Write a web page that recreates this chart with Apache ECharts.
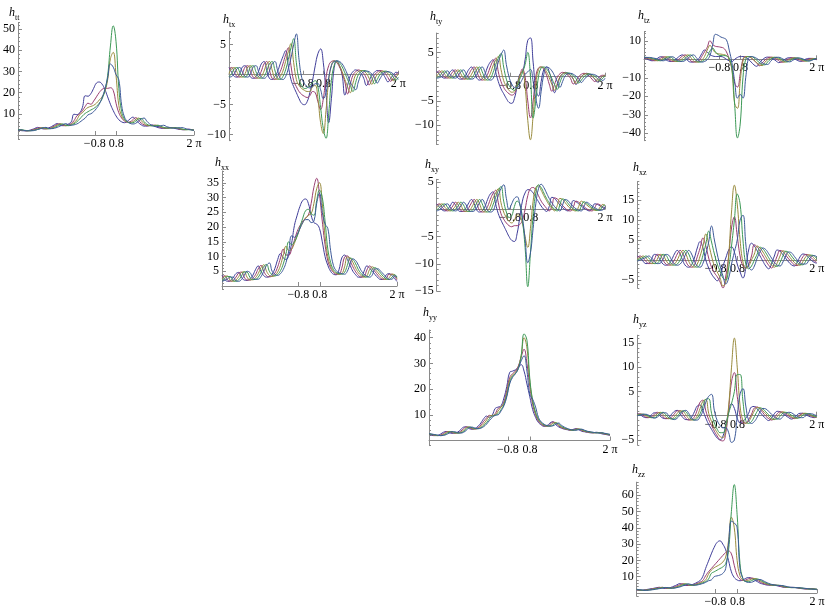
<!DOCTYPE html>
<html><head><meta charset="utf-8">
<script src="https://cdn.jsdelivr.net/npm/echarts@6/dist/echarts.min.js"></script>
<style>html,body{margin:0;padding:0;background:#fff}#c{width:830px;height:613px}</style>
</head><body><div id="c"></div>
<script>
const X = [0,0.1,0.2,0.3,0.4,0.5,0.6,0.7,0.8,0.9,1,1.1,1.2,1.3,1.4,1.5,1.6,1.7,1.8,1.9,2,2.1,2.2,2.3,2.4,2.5,2.6,2.7,2.8,2.9,3,3.1,3.2,3.3,3.4,3.5,3.6,3.7,3.8,3.9,4,4.1,4.2,4.3,4.4,4.5,4.6,4.7,4.8,4.9,5,5.1,5.2,5.3,5.4,5.5,5.6,5.7,5.8,5.9,6,6.1,6.2,6.2832];
const X_TICKS = [2.74, 3.51, 6.2832];
const X_TICK_LABELS = ['\u22120.8', '0.8', '2 \u03c0'];

const TT1 = [2.4,2.1,2.0,2.0,2.2,2.6,3.1,3.6, 3.2,2.9,3.0,3.4,4.0,4.8,5.4,4.6, 4.4,4.6,5.2,6.2,9.8,9.6,10.5,13, 18.5,18.3,19.5,22,24.5,25,24,21.5, 18,14.5,11.5,9,7.2,6.2,5.8,6.4, 7.6,8.4,7.2,5.8,4.8,4.2,4.2,4.5, 4.7,4.0,3.5,3.2,3.1,3.2,3.4,3.5, 3.1,2.8,2.6,2.5,2.6,2.7,2.5,2.2];
const TT2 = [2.4,2.3,2.1,2.0,2.1,2.3,2.8,3.2, 3.5,3.0,2.9,3.1,3.6,4.3,5.0,5.3, 4.5,4.4,4.7,5.4,6.8,9.0,10.0,11.5, 13.5,15.0,14.5,16,18,20,21.5,22, 22,22.3,21,15,10.5,8,6.6,6.0, 6.2,7.2,8.2,7.0,5.6,4.8,4.4,4.4, 4.6,4.6,3.9,3.5,3.3,3.2,3.3,3.5, 3.4,3.0,2.7,2.5,2.6,2.7,2.5,2.3];
const TT3 = [2.5,2.4,2.2,2.0,2.0,2.2,2.5,2.9, 3.3,3.4,2.9,3.0,3.3,3.9,4.6,5.2, 5.0,4.4,4.5,5.0,5.8,7.2,9.5,10.5, 12,13,13.5,14,15,16.5,18,20.5, 26,36,39,28,14,9,7,6.2, 5.9,6.3,7.3,8.0,6.8,5.4,4.6,4.4, 4.4,4.6,4.5,3.8,3.4,3.3,3.3,3.4, 3.5,3.2,2.9,2.6,2.5,2.6,2.5,2.3];
const TT4 = [2.5,2.5,2.3,2.1,2.0,2.1,2.3,2.6, 3.0,3.4,3.3,2.9,3.1,3.5,4.1,4.9, 5.2,4.7,4.4,4.7,5.3,6.2,7.5,9.0, 10.2,11.0,11.8,12.5,13.5,15,17,21, 28,42,51.5,44,22,11,7.5,6.2, 5.7,5.8,6.5,7.5,7.8,6.3,5.1,4.5, 4.3,4.4,4.6,4.2,3.6,3.3,3.3,3.3, 3.4,3.4,3.0,2.7,2.5,2.5,2.4,2.3];
const TT5 = [2.3,2.4,2.2,2.0,2.0,2.0,2.2,2.6, 3.0,3.4,3.6,3.1,3.0,3.2,3.6,4.2, 4.8,5.4,4.8,4.6,4.8,5.2,6.0,7.0, 8.0,9.5,10.0,11.0,12.5,14.5,17.5,21.5, 27,33.5,32,28.5,26,14,8.5,6.5, 5.5,5.2,5.5,6.5,7.5,8.0,6.5,5.2, 4.4,4.0,4.0,4.3,4.6,4.0,3.6,3.3, 3.2,3.3,3.5,3.4,2.9,2.6,2.4,2.2];

const TX1 = [1.2,0.4,-0.3,-0.4,0.2,1.3,1.5,0.5, -0.4,-0.6,-0.3,0.6,1.8,2.2,0.8,-0.6, -0.8,-0.3,0.5,1.8,3.0,4.0,1.5,-0.8, -2.0,-3.0,-4.0,-4.8,-5.0,-4.5,-3.0,-1.0, 1.5,3.5,4.3,2.0,-3.0,-8.0,-4.0,1.0, 2.3,1.5,0.0,-3.4,-1.8,-0.2,0.5,0.8, 0.6,0.2,-0.6,-1.8,-1.0,-0.1,0.4,0.7, 0.6,0.2,-0.5,-1.2,-0.6,0.0,0.4,0.3];
const TX2 = [1.0,1.2,0.4,-0.3,-0.4,0.2,1.3,1.5, 0.5,-0.4,-0.6,-0.3,0.6,1.8,2.2,0.8, -0.6,-0.8,-0.3,0.5,1.8,3.3,4.5,1.5, -1.0,-2.0,-2.8,-3.3,-3.6,-3.8,-3.5,-2.8, -3.0,-4.5,-5.8,-4.0,-0.5,1.5,2.2,2.3, 2.0,1.3,0.2,-1.2,-3.2,-1.6,-0.1,0.5, 0.8,0.6,0.2,-0.6,-1.7,-0.9,0.0,0.4, 0.7,0.6,0.2,-0.5,-1.1,-0.5,0.1,0.3];
const TX3 = [0.2,1.0,1.2,0.4,-0.3,-0.4,0.2,1.3, 1.5,0.5,-0.4,-0.6,-0.3,0.6,1.8,2.2, 0.8,-0.6,-0.8,-0.3,0.6,2.2,3.8,5.2, 2.0,-0.8,-1.8,-2.3,-2.6,-2.8,-2.8,-2.0, -1.8,-4.0,-8.0,-9.8,-6.0,-1.0,1.5,2.3, 2.1,1.5,0.5,-0.8,-2.0,-3.0,-1.4,0.0, 0.5,0.7,0.6,0.2,-0.6,-1.6,-0.8,0.0, 0.4,0.6,0.5,0.2,-0.5,-1.0,-0.4,0.1];
const TX4 = [-0.3,0.2,1.0,1.2,0.4,-0.3,-0.4,0.2, 1.3,1.5,0.5,-0.4,-0.6,-0.3,0.6,1.8, 2.2,0.8,-0.6,-0.8,-0.3,0.8,2.5,4.5, 6.0,2.0,-0.8,-1.8,-2.3,-2.2,-1.8,-1.3, -1.0,-2.0,-5.5,-9.0,-10.6,-6.5,-1.0,1.5, 2.3,2.0,1.3,0.3,-0.8,-1.8,-2.8,-1.3, 0.0,0.5,0.7,0.6,0.2,-0.5,-1.5,-0.8, 0.0,0.4,0.6,0.5,0.2,-0.4,-0.9,-0.4];
const TX5 = [-0.4,-0.3,0.2,1.0,1.2,0.4,-0.3,-0.4, 0.2,1.3,1.5,0.5,-0.4,-0.6,-0.3,0.6, 1.8,2.2,0.8,-0.6,-0.8,-0.3,1.0,2.8, 5.0,6.8,2.5,-0.5,-1.5,-2.0,-2.2,-2.0, -1.5,-1.5,-2.5,-4.0,-3.0,-0.5,1.5,2.2, 2.3,2.2,1.8,1.0,0.0,-1.2,-2.0,-2.5, -1.2,0.0,0.5,0.6,0.5,0.1,-0.5,-1.4, -0.7,0.0,0.4,0.5,0.4,0.1,-0.4,-0.8];

const TY1 = [1.2,0.5,-0.1,-0.3,0.2,1.0,1.4,0.6, -0.3,-0.5,-0.3,0.5,1.5,2.0,1.0,-0.3, -0.7,-0.4,0.5,2.0,3.0,3.5,1.0,-1.0, -2.5,-3.5,-4.5,-5.3,-5.5,-4.5,-2.0,0.5, 1.0,3.5,7.5,8.0,3.0,-2.5,-4.0,-1.0, 1.5,2.0,1.0,-1.0,-3.3,-1.8,-0.2,0.6, 0.9,0.7,0.3,-0.5,-1.6,-0.9,0.0,0.5, 0.7,0.5,0.1,-0.5,-1.1,-0.5,0.1,0.3];
const TY2 = [0.8,1.2,0.5,-0.1,-0.3,0.2,1.0,1.4, 0.6,-0.3,-0.5,-0.3,0.5,1.5,2.0,1.0, -0.3,-0.7,-0.4,0.5,2.0,3.2,3.8,1.0, -1.0,-2.2,-3.0,-3.5,-3.8,-3.5,-2.0,0.0, 1.6,0.0,-5.0,-8.5,-5.0,0.0,1.8,2.0, 1.5,0.3,-1.5,-3.0,-1.6,-0.1,0.6,0.9, 0.7,0.3,-0.4,-1.5,-0.9,0.0,0.5,0.7, 0.5,0.1,-0.5,-1.0,-0.5,0.1,0.3,0.2];
const TY3 = [0.1,0.8,1.2,0.5,-0.1,-0.3,0.2,1.0, 1.4,0.6,-0.3,-0.5,-0.3,0.5,1.5,2.0, 1.0,-0.3,-0.7,-0.4,0.6,2.2,3.4,4.2, 1.5,-0.8,-2.0,-2.8,-3.2,-3.0,-1.8,0.2, 1.2,-2.0,-9.0,-13.0,-8.0,-1.5,1.5,2.0, 1.8,1.0,-0.2,-1.6,-2.8,-1.4,0.0,0.6, 0.8,0.6,0.2,-0.5,-1.4,-0.8,0.0,0.5, 0.6,0.5,0.1,-0.4,-0.9,-0.4,0.1,0.3];
const TY4 = [-0.2,0.1,0.8,1.2,0.5,-0.1,-0.3,0.2, 1.0,1.4,0.6,-0.3,-0.5,-0.3,0.5,1.5, 2.0,1.0,-0.3,-0.7,-0.4,0.8,2.5,3.8, 4.8,2.0,-0.5,-1.8,-2.5,-2.8,-2.0,-0.5, 0.8,2.5,5.0,0.0,-8.5,-5.0,0.0,1.8, 2.0,1.6,0.8,-0.4,-1.6,-2.6,-1.2,0.1, 0.6,0.8,0.6,0.2,-0.4,-1.3,-0.7,0.0, 0.4,0.6,0.4,0.1,-0.4,-0.8,-0.3,0.1];
const TY5 = [-0.3,-0.2,0.1,0.8,1.2,0.5,-0.1,-0.3, 0.2,1.0,1.4,0.6,-0.3,-0.5,-0.3,0.5, 1.5,2.0,1.0,-0.3,-0.7,-0.4,1.0,3.0, 4.5,5.5,2.5,0.0,-1.5,-2.2,-2.3,-1.5, -0.5,0.5,1.0,1.5,-1.0,-4.5,-6.5,-3.0, 0.5,2.0,1.8,1.2,0.2,-1.0,-2.2,-1.0, 0.2,0.6,0.7,0.5,0.1,-0.4,-1.2,-0.6, 0.0,0.4,0.5,0.4,0.1,-0.4,-0.8,-0.3];

const TZ1 = [0.5,0.2,-0.5,-0.8,-0.3,0.6,1.4,1.0, -0.3,-1.0,-1.2,-0.6,0.5,1.8,2.4,1.0, -0.8,-1.5,-1.4,-0.8,0.5,3.0,5.0,4.0, 2.5,1.8,1.5,1.5,1.5,1.0,0.0,-0.8, -1.2,0.0,1.0,1.5,1.5,1.0,0.0,-1.5, -3.0,-3.8,-2.0,-0.3,0.8,1.2,0.9,0.2, -0.8,-1.8,-1.2,-0.2,0.6,0.9,0.6,0.0, -0.7,-1.2,-0.5,0.2,0.5,0.4,0.0,-0.2];
const TZ2 = [0.8,0.5,0.2,-0.5,-0.8,-0.3,0.6,1.4, 1.0,-0.3,-1.0,-1.2,-0.6,0.5,1.8,2.4, 1.0,-0.8,-1.5,-1.4,-0.8,1.5,4.0,6.5, 10.0,8.0,7.0,6.8,6.5,6.0,4.0,0.0, -5.0,-13,-15,-8,0.0,1.5,1.5,0.8, -0.5,-2.0,-3.5,-2.0,-0.4,0.7,1.2,0.9, 0.2,-0.7,-1.7,-1.2,-0.2,0.5,0.9,0.6, 0.0,-0.6,-1.1,-0.5,0.2,0.5,0.4,0.0];
const TZ3 = [1.0,0.8,0.5,0.2,-0.5,-0.8,-0.3,0.6, 1.4,1.0,-0.3,-1.0,-1.2,-0.6,0.5,1.8, 2.4,1.0,-0.8,-1.5,-1.4,-0.5,1.5,5.0, 7.5,5.5,3.5,3.0,2.8,2.5,2.0,0.0, -6.0,-24,-26.5,-12,-1.0,1.5,1.5,0.8, -0.5,-1.8,-3.0,-3.4,-1.6,-0.2,0.8,1.1, 0.8,0.1,-0.8,-1.6,-1.0,-0.1,0.6,0.8, 0.5,-0.1,-0.7,-1.0,-0.4,0.2,0.4,0.3];
const TZ4 = [1.0,1.0,0.8,0.5,0.2,-0.5,-0.8,-0.3, 0.6,1.4,1.0,-0.3,-1.0,-1.2,-0.6,0.5, 1.8,2.4,1.0,-0.8,-1.5,-1.2,-0.3,1.5, 4.5,6.0,4.0,2.5,2.0,2.0,1.8,0.5, -5,-25,-42.5,-35,-10,0.0,1.5,1.5, 0.8,-0.5,-1.8,-2.8,-3.0,-1.4,0.0,0.9, 1.1,0.7,0.0,-0.9,-1.5,-0.8,0.1,0.7, 0.7,0.3,-0.3,-0.9,-0.9,-0.3,0.3,0.4];
const TZ5 = [1.2,1.0,1.0,0.8,0.5,0.2,-0.5,-0.8, -0.3,0.6,1.4,1.0,-0.3,-1.0,-1.2,-0.6, 0.5,1.8,2.4,1.0,-0.8,-1.5,-1.2,-0.2, 2.0,8.0,13.5,13.0,12.0,11.5,10.5,5.0, -2.0,-12,-21,-19,-21,-10,0.5,1.5, 1.2,0.5,-0.6,-1.8,-2.6,-2.8,-1.2,0.2, 1.0,1.1,0.6,-0.2,-1.0,-1.4,-0.7,0.2, 0.7,0.6,0.1,-0.5,-0.9,-0.6,0.1,0.4];

const XX1 = [3.7,2.2,1.6,1.8,2.8,4.2,4.6,3.0, 2.0,1.9,2.4,3.5,5.5,6.8,5.0,3.5, 3.0,3.2,4.0,6.0,9.0,11.0,9.5,9.0, 10.5,14.5,20.5,24.0,27.0,29.0,29.5,28.0, 24.0,21.5,21.0,19.5,15.0,10.0,7.0,5.0, 4.0,3.8,5.5,9.5,10.5,9.0,7.0,5.0, 3.8,3.0,3.0,5.0,6.8,6.0,5.0,3.8, 2.8,2.2,2.4,3.8,4.2,3.5,2.5,1.5];
const XX2 = [3.0,3.5,2.0,1.6,1.9,3.0,4.4,4.7, 3.0,2.0,2.0,2.6,3.8,5.8,7.0,5.0, 3.5,3.1,3.4,4.4,6.5,9.5,12.5,10.5, 10.5,12.5,15.5,18.5,20.5,22.0,23.0,24.0, 28.0,33.5,36.5,31.0,22.0,14.0,8.5,6.0, 4.6,4.0,4.0,6.0,9.8,10.2,8.5,6.5, 4.8,3.6,3.0,3.2,5.4,6.8,5.8,4.8, 3.6,2.6,2.2,2.6,4.0,4.0,3.2,2.0];
const XX3 = [2.4,3.2,3.4,1.9,1.6,2.0,3.2,4.6, 4.8,3.0,2.1,2.1,2.8,4.2,6.2,7.2, 5.0,3.6,3.2,3.6,4.8,7.0,10.5,13.5, 12.0,12.5,14.5,17.0,19.5,21.5,23.0,24.0, 24.5,28.0,33.0,35.0,28.0,17.0,10.0,6.8, 5.0,4.3,4.0,4.2,6.5,9.8,9.5,8.0, 6.0,4.5,3.5,3.0,3.4,5.6,6.5,5.6, 4.5,3.4,2.5,2.2,2.8,4.0,3.8,2.5];
const XX4 = [1.9,2.5,3.2,3.2,1.8,1.6,2.1,3.4, 4.8,4.7,3.0,2.2,2.2,3.0,4.6,6.6, 7.3,5.0,3.8,3.4,3.9,5.2,7.5,11.0, 15.0,14.0,15.0,17.0,20.0,23.0,25.5,26.0, 24.5,24.0,29.0,32.5,30.0,22.0,12.5,8.0, 5.6,4.6,4.2,4.0,4.6,7.0,9.5,9.0, 7.5,5.5,4.2,3.3,3.0,3.6,5.8,6.2, 5.4,4.3,3.2,2.4,2.2,3.0,3.8,3.0];
const XX5 = [1.6,1.9,2.4,3.0,3.0,1.8,1.6,2.2, 3.6,5.0,4.6,3.0,2.3,2.3,3.2,5.0, 7.0,7.8,5.0,4.0,3.6,4.2,5.6,8.0, 12.0,17.0,16.5,17.5,19.5,21.5,22.5,22.5, 21.5,22.0,28.0,31.5,25.0,21.0,19.5,12.0, 7.0,5.2,4.5,4.2,4.0,5.0,7.5,9.2, 8.6,7.0,5.2,4.0,3.3,3.0,3.8,5.8, 5.8,5.0,4.0,3.0,2.3,2.3,3.4,3.0];

const XY1 = [1.0,0.4,-0.1,-0.3,0.0,0.6,1.3,0.8, -0.2,-0.4,-0.3,0.3,1.2,1.8,1.0,-0.2, -0.5,-0.3,0.5,1.8,2.8,3.2,1.0,-0.8, -2.0,-3.0,-4.0,-5.0,-5.7,-5.9,-4.5,-1.5, 1.5,3.0,3.6,3.5,3.0,2.2,1.4,0.6, 0.0,-0.4,0.5,2.2,2.0,1.4,0.8,0.3, -0.1,-0.3,0.3,1.6,1.4,1.0,0.6,0.2, -0.1,-0.3,0.2,1.0,0.9,0.6,0.3,0.1];
const XY2 = [0.8,1.0,0.4,-0.1,-0.3,0.0,0.6,1.3, 0.8,-0.2,-0.4,-0.3,0.3,1.2,1.8,1.0, -0.2,-0.5,-0.3,0.5,1.8,2.9,3.5,1.2, -0.8,-1.8,-2.5,-3.0,-3.2,-3.0,-3.0,-2.8, -2.0,0.0,2.5,3.8,4.0,3.5,2.5,1.5, 0.8,0.2,-0.3,0.6,2.1,1.9,1.3,0.7, 0.2,-0.2,-0.3,0.4,1.5,1.3,0.9,0.5, 0.1,-0.2,-0.3,0.3,1.0,0.8,0.5,0.2];
const XY3 = [0.3,0.8,1.0,0.4,-0.1,-0.3,0.0,0.6, 1.3,0.8,-0.2,-0.4,-0.3,0.3,1.2,1.8, 1.0,-0.2,-0.5,-0.3,0.6,2.0,3.0,3.8, 1.2,-0.5,-1.5,-2.2,-2.5,-2.0,-1.0,-1.2, -2.5,-5.0,-7.0,-3.5,1.5,4.0,4.3,3.5, 2.5,1.6,0.8,0.2,-0.3,0.7,2.0,1.8, 1.2,0.6,0.1,-0.2,-0.3,0.5,1.5,1.2, 0.8,0.4,0.1,-0.2,-0.2,0.4,0.9,0.7];
const XY4 = [-0.1,0.3,0.8,1.0,0.4,-0.1,-0.3,0.0, 0.6,1.3,0.8,-0.2,-0.4,-0.3,0.3,1.2, 1.8,1.0,-0.2,-0.5,-0.3,0.8,2.2,3.4, 4.2,1.5,-0.5,-1.5,-1.2,0.5,1.5,1.0, -2.0,-7.0,-14.2,-8.0,-1.0,3.0,4.5,4.0, 3.0,2.0,1.2,0.5,0.0,-0.3,0.8,1.9, 1.7,1.1,0.5,0.1,-0.2,-0.3,0.6,1.4, 1.1,0.7,0.3,0.0,-0.2,-0.1,0.6,0.8];
const XY5 = [-0.3,-0.1,0.3,0.8,1.0,0.4,-0.1,-0.3, 0.0,0.6,1.3,0.8,-0.2,-0.4,-0.3,0.3, 1.2,1.8,1.0,-0.2,-0.5,-0.3,1.0,2.5, 3.8,4.5,2.0,0.0,1.0,2.0,2.3,1.0, -1.5,-5.5,-9.8,-8.0,-3.5,1.0,3.8,4.6, 4.0,3.0,2.0,1.2,0.5,0.0,-0.3,0.8, 1.8,1.6,1.0,0.5,0.1,-0.2,-0.3,0.6, 1.3,1.0,0.6,0.3,0.0,-0.2,-0.1,0.5];

const XZ1 = [1.0,0.5,-0.3,-0.9,-0.8,0.2,1.4,1.2, 0.0,-1.0,-1.3,-1.0,0.0,1.5,2.4,1.5, -0.3,-1.5,-1.8,-1.2,0.5,3.0,4.6,3.0, 0.0,-2.0,-3.5,-4.5,-5.2,-4.0,-1.5,0.5, 2.5,3.3,2.0,-1.0,-3.0,-4.5,-2.0,2.5, 4.2,3.5,2.3,1.0,-0.3,-1.5,-2.2,-1.0, 1.0,2.5,2.2,1.3,0.4,-0.5,-1.2,-1.5, -0.6,0.8,1.5,1.3,0.6,-0.1,-0.6,-0.8];
const XZ2 = [0.6,1.0,0.5,-0.3,-0.9,-0.8,0.2,1.4, 1.2,0.0,-1.0,-1.3,-1.0,0.0,1.5,2.4, 1.5,-0.3,-1.5,-1.8,-1.2,0.8,3.0,5.5, 3.5,0.5,-1.8,-3.2,-4.2,-5.5,-7.0,-4.0, 1.0,8.0,10.8,6.0,1.0,-1.5,-2.0,-1.0, 1.0,3.8,3.3,2.2,1.0,-0.2,-1.3,-2.0, -0.8,1.0,2.4,2.1,1.2,0.3,-0.5,-1.2, -1.4,-0.5,0.8,1.4,1.2,0.5,-0.2,-0.6];
const XZ3 = [0.3,0.6,1.0,0.5,-0.3,-0.9,-0.8,0.2, 1.4,1.2,0.0,-1.0,-1.3,-1.0,0.0,1.5, 2.4,1.5,-0.3,-1.5,-1.8,-1.0,1.0,3.5, 6.5,4.0,1.0,-1.5,-3.0,-4.5,-6.5,-5.5, 1.0,12.0,18.7,14.0,5.0,-0.5,-2.0,-1.5, 0.0,1.5,3.5,3.0,2.0,0.8,-0.4,-1.3, -1.8,-0.7,1.0,2.3,2.0,1.1,0.2,-0.6, -1.2,-1.3,-0.4,0.8,1.3,1.1,0.4,-0.2];
const XZ4 = [0.0,0.3,0.6,1.0,0.5,-0.3,-0.9,-0.8, 0.2,1.4,1.2,0.0,-1.0,-1.3,-1.0,0.0, 1.5,2.4,1.5,-0.3,-1.5,-1.8,-1.0,1.2, 4.0,7.2,4.5,1.5,-1.0,-2.8,-4.5,-5.0, -2.0,3.5,10.0,16.5,14.0,5.0,-1.0,-2.2, -1.5,0.0,1.5,3.2,2.8,1.8,0.6,-0.5, -1.3,-1.6,-0.6,1.0,2.2,1.9,1.0,0.1, -0.6,-1.1,-1.2,-0.3,0.8,1.2,1.0,0.3];
const XZ5 = [-0.3,0.0,0.3,0.6,1.0,0.5,-0.3,-0.9, -0.8,0.2,1.4,1.2,0.0,-1.0,-1.3,-1.0, 0.0,1.5,2.4,1.5,-0.3,-1.5,-1.8,-0.8, 1.5,4.5,8.5,5.0,1.5,-1.5,-4.0,-6.0, -4.5,-1.0,2.0,5.0,10.0,11.2,4.0,-1.5, -2.5,-1.5,0.5,2.0,3.0,2.6,1.6,0.5, -0.6,-1.3,-1.5,-0.5,1.0,2.0,1.8,0.9, 0.0,-0.7,-1.0,-1.0,-0.2,0.9,1.1,0.8];

const YY1 = [2.4,2.0,1.9,2.0,2.5,3.2,3.5,3.0, 2.8,2.9,3.3,4.2,5.2,5.3,4.6,4.4, 4.7,5.5,6.8,8.5,9.5,9.0,10.0,12.5, 13.0,13.5,16.5,21.0,26.5,27.0,27.5,28.5, 29.5,27.0,22.0,17.0,12.0,9.0,7.0,6.0, 5.5,5.8,6.8,7.3,6.2,5.3,4.8,4.4, 4.2,4.0,4.3,4.6,4.2,3.6,3.4,3.2, 3.0,3.0,3.2,3.0,2.6,2.4,2.2,2.0];
const YY2 = [2.5,2.2,2.0,1.9,2.1,2.7,3.4,3.5, 3.0,2.9,3.0,3.6,4.6,5.3,5.0,4.5, 4.5,5.0,6.0,7.5,8.8,9.8,9.5,10.5, 12.5,13.0,15.0,19.5,24.5,26.0,27.0,29.0, 32.5,35.5,30.0,21.0,14.0,10.0,7.5,6.3, 5.7,5.6,6.2,7.2,6.8,5.7,5.0,4.6, 4.3,4.1,4.1,4.5,4.4,3.9,3.5,3.3, 3.1,3.0,3.1,3.1,2.8,2.5,2.3,2.1];
const YY3 = [2.6,2.3,2.1,1.9,2.0,2.3,3.0,3.5, 3.3,2.9,2.9,3.2,4.0,5.0,5.3,4.7, 4.5,4.7,5.4,6.5,8.0,9.5,9.8,10.0, 11.5,13.0,14.5,18.5,23.5,25.5,26.5,28.5, 33.0,40.0,36.0,23.0,15.0,10.5,8.0,6.6, 5.9,5.6,5.8,6.7,7.0,6.0,5.2,4.7, 4.4,4.1,4.0,4.3,4.5,4.1,3.6,3.4, 3.2,3.0,3.0,3.1,2.9,2.6,2.4,2.2];
const YY4 = [2.6,2.4,2.2,2.0,1.9,2.1,2.6,3.3, 3.5,3.1,2.9,3.0,3.5,4.5,5.2,5.0, 4.6,4.6,5.0,5.8,7.0,8.5,9.5,9.8, 10.5,12.0,14.0,17.5,22.5,25.0,26.0,28.0, 33.0,41.5,39.0,24.0,15.5,11.0,8.3,6.9, 6.1,5.7,5.6,6.0,6.8,6.5,5.5,4.9, 4.5,4.2,4.0,4.1,4.4,4.3,3.8,3.5, 3.3,3.1,3.0,3.0,3.0,2.7,2.5,2.3];
const YY5 = [2.7,2.5,2.3,2.1,1.9,2.0,2.3,2.9, 3.4,3.4,3.0,2.9,3.2,4.0,5.0,5.2, 4.8,4.6,4.8,5.4,6.4,7.8,9.0,9.8, 10.0,11.5,13.5,17.0,22.0,24.5,26.0,28.0, 31.0,33.0,27.0,18.0,16.0,13.0,9.0,7.2, 6.3,5.8,5.6,5.7,6.3,6.8,5.9,5.2, 4.7,4.3,4.1,4.0,4.2,4.4,4.0,3.6, 3.4,3.2,3.0,2.9,3.0,2.8,2.6,2.4];

const YZ1 = [0.4,0.2,-0.2,-0.4,-0.3,0.2,0.6,0.5, -0.1,-0.5,-0.6,-0.4,0.3,0.9,1.1,0.4, -0.4,-0.8,-0.8,-0.3,0.8,2.0,2.2,1.0, -0.5,-1.8,-2.8,-3.8,-4.6,-5.0,-4.2,-2.0, 0.8,2.5,1.5,-0.5,-1.5,-1.2,-0.5,0.5, 1.8,1.9,1.4,0.7,0.0,-0.6,-1.0,-0.5, 0.4,0.9,0.8,0.4,0.0,-0.4,-0.7,-0.4, 0.2,0.5,0.5,0.2,-0.1,-0.3,-0.4,-0.2];
const YZ2 = [0.3,0.4,0.1,-0.3,-0.4,-0.2,0.3,0.7, 0.4,-0.2,-0.6,-0.6,-0.3,0.4,1.0,1.0, 0.3,-0.5,-0.9,-0.8,-0.2,1.2,2.8,3.2, 1.0,-0.8,-2.0,-3.2,-4.2,-5.0,-5.2,-3.5, 1.5,7.0,8.9,4.0,0.0,-1.5,-1.5,-0.8, 0.3,1.6,1.8,1.3,0.6,-0.1,-0.6,-0.9, -0.4,0.4,0.8,0.7,0.3,-0.1,-0.4,-0.6, -0.3,0.2,0.5,0.4,0.2,-0.1,-0.3,-0.3];
const YZ3 = [0.2,0.3,0.3,0.0,-0.3,-0.4,-0.1,0.4, 0.7,0.3,-0.3,-0.6,-0.6,-0.2,0.5,1.0, 0.9,0.2,-0.6,-0.9,-0.7,0.0,1.5,3.0, 3.3,0.5,-1.2,-2.5,-3.5,-4.3,-4.5,-2.5, 2.0,10.0,16.0,10.0,2.0,-1.0,-1.6,-1.2, -0.2,1.0,1.7,1.6,1.0,0.4,-0.2,-0.7, -0.8,-0.2,0.5,0.8,0.6,0.2,-0.2,-0.5, -0.5,0.0,0.4,0.5,0.3,0.0,-0.2,-0.3];
const YZ4 = [0.1,0.2,0.3,0.2,-0.1,-0.4,-0.4,0.0, 0.5,0.7,0.2,-0.4,-0.7,-0.6,-0.1,0.6, 1.0,0.8,0.0,-0.7,-0.9,-0.5,0.4,2.0, 3.4,3.5,0.5,-1.5,-2.8,-3.5,-3.5,-2.0, 0.5,2.5,5.0,8.5,8.5,3.0,-1.0,-1.6, -1.2,-0.2,0.9,1.6,1.4,0.8,0.2,-0.3, -0.7,-0.7,-0.1,0.5,0.7,0.5,0.1,-0.2, -0.5,-0.4,0.1,0.4,0.4,0.2,-0.1,-0.2];
const YZ5 = [0.0,0.1,0.3,0.3,0.1,-0.3,-0.5,-0.3, 0.2,0.6,0.6,0.0,-0.6,-0.8,-0.5,0.2, 0.9,1.1,0.5,-0.4,-0.9,-0.9,-0.2,1.0, 2.8,4.0,4.4,1.0,-1.0,-2.0,-2.5,-2.5, -3.5,-5.5,-5.0,0.0,4.5,5.6,2.0,-1.0, -1.6,-1.2,-0.3,0.8,1.5,1.4,0.9,0.3, -0.2,-0.6,-0.7,-0.2,0.4,0.7,0.6,0.2, -0.1,-0.4,-0.4,0.0,0.4,0.4,0.2,0.0];

const ZZ1 = [1.8,1.6,1.7,2.0,2.3,2.6,2.9,3.3, 3.5,3.0,2.8,3.0,3.5,4.2,5.0,5.8, 5.0,4.6,4.6,5.0,5.6,6.5,7.5,10.0, 15.0,19.5,24.0,28.0,31.0,32.0,30.0,26.5, 20.0,13.0,9.5,8.0,7.5,8.0,9.0,9.5, 9.0,8.0,7.0,6.0,5.5,5.0,4.8,4.9, 4.8,4.4,4.0,3.6,3.4,3.4,3.5,3.4, 3.1,2.8,2.6,2.5,2.6,2.6,2.3,2.0];
const ZZ2 = [2.0,1.7,1.6,1.8,2.1,2.4,2.7,3.0, 3.3,3.5,3.0,2.9,3.1,3.6,4.3,5.1, 5.8,5.0,4.7,4.8,5.2,5.8,6.6,7.6, 10.5,13.0,15.0,17.0,19.0,21.0,23.0,24.8, 25.8,24.0,17.0,11.0,8.5,7.8,8.0,8.8, 9.2,8.8,7.8,6.8,5.9,5.4,5.0,4.8, 4.9,4.6,4.2,3.8,3.5,3.4,3.4,3.4, 3.2,2.9,2.7,2.5,2.5,2.6,2.4,2.1];
const ZZ3 = [2.1,1.8,1.6,1.7,1.9,2.2,2.5,2.8, 3.1,3.4,3.3,2.9,3.0,3.3,3.8,4.5, 5.3,5.7,4.9,4.7,4.9,5.4,6.0,6.8, 8.0,11.5,14.0,15.5,16.5,17.5,19.0,22.0, 32.0,46.5,40.0,20.0,10.5,8.0,7.5,7.8, 8.5,8.9,8.5,7.5,6.5,5.8,5.2,4.9, 4.8,4.8,4.5,4.0,3.6,3.4,3.3,3.4, 3.3,3.0,2.8,2.6,2.5,2.5,2.4,2.2];
const ZZ4 = [2.2,1.9,1.7,1.6,1.8,2.0,2.3,2.6, 2.9,3.2,3.4,3.1,2.9,3.1,3.5,4.0, 4.8,5.5,5.4,4.8,4.8,5.1,5.6,6.2, 7.0,8.5,12.0,13.0,14.0,15.0,16.0,18.0, 26.0,50.0,66.5,48.0,18.0,9.0,7.0,7.0, 7.6,8.3,8.6,8.0,7.0,6.2,5.5,5.0, 4.8,4.7,4.7,4.3,3.8,3.5,3.3,3.3, 3.3,3.1,2.9,2.7,2.5,2.4,2.4,2.3];
const ZZ5 = [2.3,2.0,1.8,1.6,1.7,1.9,2.1,2.4, 2.7,3.0,3.3,3.3,3.0,3.0,3.3,3.7, 4.3,5.0,5.6,5.2,4.8,4.9,5.3,5.8, 6.5,7.5,8.0,10.0,10.5,11.0,12.0,15.0, 30.0,44.0,43.0,40.0,15.0,9.0,7.0,6.5, 6.6,7.3,8.0,8.3,7.6,6.7,5.9,5.3, 4.9,4.7,4.6,4.5,4.1,3.7,3.4,3.3, 3.3,3.2,3.0,2.8,2.6,2.4,2.3,2.3];

const COLORS = ['#3F3D99','#993D71','#998B3D','#3D9956','#3D5A99'];
const AX = '#8a8a8a';
const FONT = '"Liberation Serif","Times New Roman",serif';

const PANELS = [
  {sub:'tt', data:[TT1,TT2,TT3,TT4,TT5], left:14,    w:180,   y0:135,   ppu:2.12, ymin:-2,  ymax:53,   ticks:[10,20,30,40,50], minor:2, tx:9,   ty:7},
  {sub:'tx', data:[TX1,TX2,TX3,TX4,TX5], left:229,   w:169.3, y0:74.7,  ppu:6,    ymin:-11, ymax:7.2,  ticks:[-10,-5,5],       minor:1, tx:223, ty:14},
  {sub:'ty', data:[TY1,TY2,TY3,TY4,TY5], left:436.7, w:168.3, y0:76.7,  ppu:4.85, ymin:-14, ymax:9,    ticks:[-10,-5,5],       minor:1, tx:430, ty:11},
  {sub:'tz', data:[TZ1,TZ2,TZ3,TZ4,TZ5], left:644,   w:172.7, y0:59.3,  ppu:1.85, ymin:-44, ymax:15,   ticks:[-40,-30,-20,-10,10], minor:2, tx:638, ty:10},
  {sub:'xx', data:[XX1,XX2,XX3,XX4,XX5], left:222,   w:175,   y0:286,   ppu:2.95, ymin:-1,  ymax:39,   ticks:[5,10,15,20,25,30,35], minor:1, tx:215, ty:157},
  {sub:'xy', data:[XY1,XY2,XY3,XY4,XY5], left:436.7, w:168.3, y0:209.3, ppu:5.45, ymin:-15, ymax:5.5,  ticks:[-15,-10,-5,5],   minor:1, tx:425, ty:159},
  {sub:'xz', data:[XZ1,XZ2,XZ3,XZ4,XZ5], left:637.3, w:179.4, y0:260,   ppu:4,    ymin:-7,  ymax:19.6, ticks:[-5,5,10,15],     minor:1, tx:633, ty:162},
  {sub:'yy', data:[YY1,YY2,YY3,YY4,YY5], left:429,   w:181,   y0:440.5, ppu:2.57, ymin:-2,  ymax:43,   ticks:[10,20,30,40],    minor:2, tx:423, ty:307},
  {sub:'yz', data:[YZ1,YZ2,YZ3,YZ4,YZ5], left:637.3, w:179.4, y0:415.7, ppu:4.85, ymin:-6,  ymax:16.6, ticks:[-5,5,10,15],     minor:1, tx:633, ty:314},
  {sub:'zz', data:[ZZ1,ZZ2,ZZ3,ZZ4,ZZ5], left:636.7, w:180.3, y0:593,   ppu:1.63, ymin:-2,  ymax:68,   ticks:[10,20,30,40,50,60], minor:2, tx:632, ty:464}
];

function xLabel(v){
  let best = 0, d = Infinity;
  X_TICKS.forEach((t,i)=>{ if (Math.abs(t - v) < d) { d = Math.abs(t - v); best = i; } });
  return X_TICK_LABELS[best];
}
function yLabel(v){ return v < 0 ? '\u2212' + Math.abs(v) : String(v); }

const grid = [], xAxis = [], yAxis = [], series = [], title = [];
PANELS.forEach((p, i) => {
  const top = p.y0 - p.ymax * p.ppu;
  const height = (p.ymax - p.ymin) * p.ppu;
  grid.push({left: p.left, top: top, width: p.w, height: height, containLabel: false});
  xAxis.push({
    gridIndex: i, type: 'value', min: 0, max: 6.2832, position: 'bottom',
    offset: p.ymin * p.ppu,
    axisLine: {show: true, onZero: false, lineStyle: {color: AX, width: 1}},
    axisTick: {show: true, customValues: X_TICKS, inside: true, length: 4, lineStyle: {color: AX}},
    axisLabel: {show: true, customValues: X_TICKS, formatter: xLabel, margin: 3, fontFamily: FONT, fontSize: 12, color: '#000'},
    splitLine: {show: false}
  });
  yAxis.push({
    gridIndex: i, type: 'value', min: p.ymin, max: p.ymax, position: 'left', offset: 0,
    axisLine: {show: true, onZero: false, lineStyle: {color: AX, width: 1}},
    axisTick: {show: true, customValues: p.ticks, inside: true, length: 4, lineStyle: {color: AX}},
    axisLabel: {show: true, customValues: p.ticks, formatter: yLabel, margin: 3, fontFamily: FONT, fontSize: 12, color: '#000'},
    splitLine: {show: false}
  });
  yAxis.push({
    gridIndex: i, type: 'value', min: p.ymin, max: p.ymax, interval: p.minor, position: 'left', offset: 0,
    axisLine: {show: false, onZero: false},
    axisTick: {show: true, inside: true, length: 2, lineStyle: {color: AX}},
    axisLabel: {show: false},
    splitLine: {show: false}
  });
  title.push({
    text: '{h|h}{s|' + p.sub + '}', left: p.tx, top: p.ty, padding: 0,
    textStyle: {fontWeight: 'normal', rich: {
      h: {fontFamily: FONT, fontStyle: 'italic', fontWeight: 'normal', fontSize: 12, color: '#000', padding: [0, 0, 3, 0], verticalAlign: 'bottom'},
      s: {fontFamily: FONT, fontWeight: 'normal', fontSize: 8, color: '#000', verticalAlign: 'bottom'}
    }}
  });
  p.data.forEach((arr, k) => {
    series.push({
      type: 'line', xAxisIndex: i, yAxisIndex: 2 * i,
      data: X.map((x, j) => [x, arr[j]]),
      showSymbol: false, symbol: 'none', smooth: 0.45, silent: true,
      lineStyle: {width: 1, color: COLORS[k]}, itemStyle: {color: COLORS[k]},
      z: 2 + k
    });
  });
});

const chart = echarts.init(document.getElementById('c'), null, {renderer: 'canvas'});
chart.setOption({animation: false, backgroundColor: '#fff', title, grid, xAxis, yAxis, series});
</script>
</body></html>
